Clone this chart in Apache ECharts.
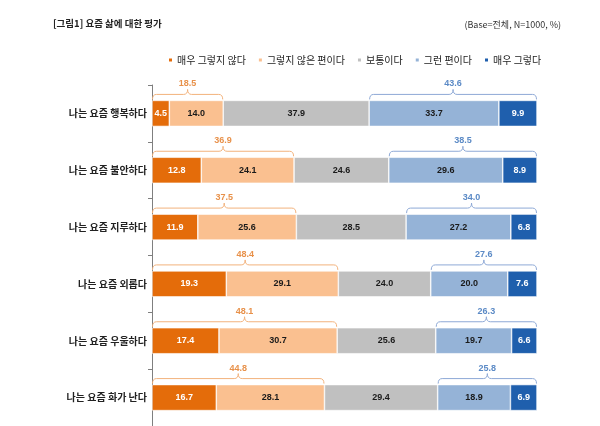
<!DOCTYPE html>
<html>
<head>
<meta charset="utf-8">
<script src="https://cdn.jsdelivr.net/npm/echarts@6/dist/echarts.min.js"></script>
<style>
html,body{margin:0;padding:0;background:#fff;}
#c{width:600px;height:426px;}
</style>
</head>
<body>
<div id="c"></div>
<script>
const categories = ['나는 요즘 행복하다','나는 요즘 불안하다','나는 요즘 지루하다','나는 요즘 외롭다','나는 요즘 우울하다','나는 요즘 화가 난다'];
const seriesNames = ['매우 그렇지 않다','그렇지 않은 편이다','보통이다','그런 편이다','매우 그렇다'];
const veryNot = [4.5, 12.8, 11.9, 19.3, 17.4, 16.7];
const not = [14.0, 24.1, 25.6, 29.1, 30.7, 28.1];
const neutral = [37.9, 24.6, 28.5, 24.0, 25.6, 29.4];
const somewhat = [33.7, 29.6, 27.2, 20.0, 19.7, 18.9];
const very = [9.9, 8.9, 6.8, 7.6, 6.6, 6.9];
const negTotals = [18.5, 36.9, 37.5, 48.4, 48.1, 44.8];
const posTotals = [43.6, 38.5, 34.0, 27.6, 26.3, 25.8];

const colors = ['#E46C0A', '#FAC090', '#C0C0C0', '#95B3D7', '#1F5FAD'];
const labelColors = ['#ffffff', '#1a1a1a', '#1a1a1a', '#1a1a1a', '#ffffff'];
const allVals = [veryNot, not, neutral, somewhat, very];
const BAR_W = 26;
const FONT = '"Liberation Sans", Arial, sans-serif';
const KFONT = '"Noto Sans CJK KR", sans-serif';

const barSeries = seriesNames.map((n, i) => ({
  name: n,
  type: 'bar',
  stack: 'total',
  barWidth: BAR_W,
  data: allVals[i],
  itemStyle: { color: colors[i], borderColor: '#ffffff', borderWidth: 0.6 },
  label: {
    show: true,
    position: 'inside',
    formatter: p => p.value.toFixed(1),
    color: labelColors[i],
    fontFamily: FONT,
    fontWeight: 'bold',
    fontSize: 9
  },
  emphasis: { disabled: true }
}));

const negBr = categories.map((c, i) => [0, veryNot[i] + not[i], i, negTotals[i]]);
const posBr = categories.map((c, i) => [veryNot[i] + not[i] + neutral[i], 100, i, posTotals[i]]);

function bracketRender(stroke, textColor) {
  return function (params, api) {
    const s = api.value(0), e = api.value(1), c = api.value(2), t = api.value(3);
    const p0 = api.coord([s, c]);
    const p1 = api.coord([e, c]);
    const yb = p0[1] - BAR_W / 2 - 1;
    const yh = yb - 5;
    const yp = yh - 5;
    const r = 4;
    const x0 = p0[0] + 0.5, x1 = p1[0] - 0.5, xm = (x0 + x1) / 2;
    const d = `M${x0} ${yb} Q${x0} ${yh} ${x0 + r} ${yh} L${xm - r} ${yh} Q${xm} ${yh} ${xm} ${yp} Q${xm} ${yh} ${xm + r} ${yh} L${x1 - r} ${yh} Q${x1} ${yh} ${x1} ${yb}`;
    return {
      type: 'group',
      children: [
        { type: 'path', shape: { pathData: d }, style: { stroke: stroke, fill: null, lineWidth: 1 } },
        { type: 'text', style: { text: t.toFixed(1), x: xm, y: yp - 1, fill: textColor,
          align: 'center', verticalAlign: 'bottom', textAlign: 'center', textVerticalAlign: 'bottom',
          font: 'bold 9px ' + FONT } }
      ]
    };
  };
}

const chart = echarts.init(document.getElementById('c'));
chart.setOption({
  animation: false,
  title: [
    { text: '[그림1] 요즘 삶에 대한 평가', left: 48, top: 14,
      textStyle: { fontSize: 9.5, fontWeight: 'bold', color: '#222', fontFamily: KFONT } },
    { text: '(Base=전체, N=1000, %)', right: 34, top: 15,
      textStyle: { fontSize: 9, fontWeight: 'normal', color: '#333', fontFamily: KFONT } }
  ],
  legend: {
    data: seriesNames,
    top: 50,
    left: 162,
    itemWidth: 5,
    itemHeight: 5,
    itemGap: 11,
    icon: 'rect',
    textStyle: { fontSize: 10, color: '#222', fontFamily: KFONT, padding: [0, 0, 0, -1] }
  },
  grid: { left: 152, right: 63, top: 85, bottom: 0 },
  xAxis: { type: 'value', min: 0, max: 100, show: false },
  yAxis: {
    type: 'category',
    data: categories,
    inverse: true,
    axisLine: { show: true, lineStyle: { color: '#7f7f7f', width: 1 } },
    axisTick: { show: true, length: 4, lineStyle: { color: '#7f7f7f' } },
    axisLabel: { margin: 5, fontSize: 10, fontWeight: 'bold', color: '#222', fontFamily: KFONT },
    splitLine: { show: false }
  },
  series: barSeries.concat([
    { type: 'custom', name: 'negBracket', renderItem: bracketRender('#F2B27C', '#E8914A'),
      data: negBr, encode: { x: [0, 1], y: 2 }, z: 5, silent: true },
    { type: 'custom', name: 'posBracket', renderItem: bracketRender('#8EA9D6', '#5B8AC6'),
      data: posBr, encode: { x: [0, 1], y: 2 }, z: 5, silent: true }
  ])
});
</script>
</body>
</html>
